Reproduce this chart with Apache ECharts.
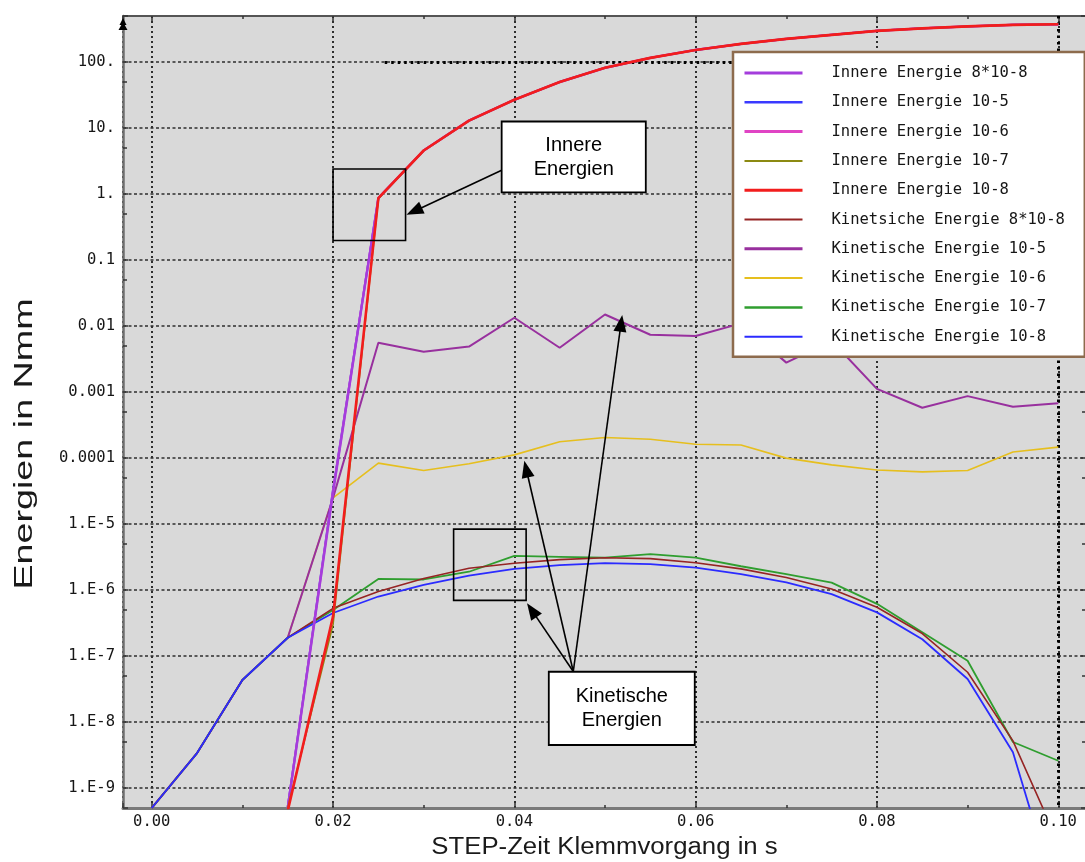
<!DOCTYPE html>
<html>
<head>
<meta charset="utf-8">
<script src="https://cdn.jsdelivr.net/npm/echarts@6/dist/echarts.min.js"></script>
<style>
  html, body { margin: 0; padding: 0; background: #ffffff; }
  #chart { width: 1085px; height: 862px; }
</style>
</head>
<body>
<div id="chart"></div>
<script>
// Simulation output times (s)
const timeSteps = [0, 0.005, 0.01, 0.015, 0.02, 0.025, 0.03, 0.035, 0.04, 0.045, 0.05,
                   0.055, 0.06, 0.065, 0.07, 0.075, 0.08, 0.085, 0.09, 0.095, 0.1];

// Internal energy (Nmm) per mass-scaling setting
const innere8e8 = [null, null, null, 5.0e-10, 3.0e-5, 0.87, 4.58, 13.0, 26.9, 50, 82, 116, 153, 189, 225, 259, 298, 325, 348, 367, 374];
const innere105 = [null, null, null, 5.2e-10, 3.4e-5, 0.87, 4.58, 13.0, 26.9, 50, 82, 116, 153, 189, 225, 259, 298, 325, 348, 367, 374];
const innere106 = [null, null, null, 5.1e-10, 3.2e-5, 0.87, 4.58, 13.0, 26.9, 50, 82, 116, 153, 189, 225, 259, 298, 325, 348, 367, 374];
const innere107 = [null, null, null, 5.0e-10, 3.0e-7, 0.85, 4.55, 13.0, 26.9, 50, 82, 116, 153, 189, 225, 259, 298, 325, 348, 367, 374];
const innere108 = [null, null, null, 4.5e-10, 4.0e-7, 0.87, 4.58, 13.0, 26.9, 50, 82, 116, 153, 189, 225, 259, 298, 325, 348, 367, 374];

// Kinetic energy (Nmm) per mass-scaling setting
const kinetic8e8 = [5e-10, 3.4e-9, 4.35e-8, 1.9e-7, 5.3e-7, 9.5e-7, 1.5e-6, 2.15e-6, 2.55e-6, 2.9e-6, 3.1e-6,
                    3.0e-6, 2.6e-6, 2.1e-6, 1.55e-6, 1.04e-6, 5.5e-7, 2.2e-7, 5.7e-8, 5.2e-9, 1.5e-10];
const kinetic105 = [5e-10, 3.4e-9, 4.35e-8, 1.9e-7, 2.5e-5, 5.6e-3, 4.1e-3, 4.9e-3, 1.34e-2, 4.7e-3, 1.5e-2,
                    7.4e-3, 7.1e-3, 1.1e-2, 2.8e-3, 6.0e-3, 1.12e-3, 5.8e-4, 8.7e-4, 6.0e-4, 6.8e-4];
const kinetic106 = [5e-10, 3.4e-9, 4.35e-8, 1.9e-7, 2.5e-5, 8.4e-5, 6.5e-5, 8.2e-5, 1.12e-4, 1.77e-4, 2.05e-4,
                    1.93e-4, 1.62e-4, 1.58e-4, 1.0e-4, 7.9e-5, 6.6e-5, 6.2e-5, 6.5e-5, 1.24e-4, 1.47e-4];
const kinetic107 = [5e-10, 3.4e-9, 4.35e-8, 1.9e-7, 5.0e-7, 1.48e-6, 1.45e-6, 1.9e-6, 3.3e-6, 3.2e-6, 3.1e-6,
                    3.5e-6, 3.1e-6, 2.3e-6, 1.75e-6, 1.3e-6, 6.2e-7, 2.3e-7, 8.5e-8, 5.0e-9, 2.6e-9];
const kinetic108 = [5e-10, 3.4e-9, 4.35e-8, 1.9e-7, 4.5e-7, 8.0e-7, 1.2e-6, 1.66e-6, 2.1e-6, 2.4e-6, 2.57e-6,
                    2.48e-6, 2.2e-6, 1.75e-6, 1.31e-6, 8.7e-7, 4.6e-7, 1.8e-7, 4.5e-8, 3.5e-9, 1.8e-11];

// Decade tick labels of the energy axis
const yTickExponents = [2, 1, 0, -1, -2, -3, -4, -5, -6, -7, -8, -9];
const yTickLabels = ['100.', '10.', '1.', '0.1', '0.01', '0.001', '0.0001', '1.E-5', '1.E-6', '1.E-7', '1.E-8', '1.E-9'];
// Time tick labels
const xTickValues = [0, 0.02, 0.04, 0.06, 0.08, 0.1];
const xTickLabels = ['0.00', '0.02', '0.04', '0.06', '0.08', '0.10'];

// Cursor cross-hair position
const cursorTime = 0.1;
const cursorEnergy = 100;
const cursorStartTime = 0.0257;

// Axis ranges (energy axis in decades)
const xMin = -0.00317, xMax = 0.10306;
const yMin = Math.log10(5e-10), yMax = Math.log10(500);

const legendOrder = [
  'Innere Energie 8*10-8', 'Innere Energie 10-5', 'Innere Energie 10-6', 'Innere Energie 10-7',
  'Innere Energie 10-8', 'Kinetsiche Energie 8*10-8', 'Kinetische Energie 10-5',
  'Kinetische Energie 10-6', 'Kinetische Energie 10-7', 'Kinetische Energie 10-8'
];
const legendLineWidths = [3, 2.5, 3, 2, 3, 2, 3, 2, 2.5, 2];

// Drawing order (last on top)
const seriesDefs = [
  { name: 'Kinetische Energie 10-6', values: kinetic106, color: '#e6bf1e', width: 1.6 },
  { name: 'Kinetische Energie 10-5', values: kinetic105, color: '#98309e', width: 2 },
  { name: 'Kinetische Energie 10-7', values: kinetic107, color: '#2f9e2f', width: 1.8 },
  { name: 'Kinetsiche Energie 8*10-8', values: kinetic8e8, color: '#962424', width: 1.6 },
  { name: 'Kinetische Energie 10-8', values: kinetic108, color: '#2b2bff', width: 1.8 },
  { name: 'Innere Energie 10-5', values: innere105, color: '#3a3aff', width: 2 },
  { name: 'Innere Energie 10-6', values: innere106, color: '#e044c4', width: 2.2 },
  { name: 'Innere Energie 8*10-8', values: innere8e8, color: '#a43ddc', width: 2.4 },
  { name: 'Innere Energie 10-7', values: innere107, color: '#8c8a12', width: 1.6 },
  { name: 'Innere Energie 10-8', values: innere108, color: '#f21d1d', width: 2.6 }
];

function toPoints(values) {
  const pts = [];
  values.forEach(function (v, i) {
    if (v != null) pts.push([timeSteps[i], Math.log10(v)]);
  });
  return pts;
}

const monoFont = 'DejaVu Sans Mono';
const labelColor = '#161616';

function xLabel(v) {
  for (let i = 0; i < xTickValues.length; i++) {
    if (Math.abs(v - xTickValues[i]) < 1e-9) return xTickLabels[i];
  }
  return '';
}
function yLabel(v) {
  for (let i = 0; i < yTickExponents.length; i++) {
    if (Math.abs(v - yTickExponents[i]) < 1e-6) return yTickLabels[i];
  }
  return '';
}

const hiddenAxisParts = { axisLabel: { show: false }, splitLine: { show: false } };

const series = seriesDefs.map(function (d) {
  return {
    type: 'line', name: d.name, xAxisIndex: 0, yAxisIndex: 0,
    data: toPoints(d.values),
    symbol: 'none', showSymbol: false, clip: true,
    lineStyle: { color: d.color, width: d.width },
    itemStyle: { color: d.color },
    emphasis: { disabled: true }
  };
});

// Cursor lines attached to the top internal energy curve
series[series.length - 1].markLine = {
  silent: true, symbol: 'none', label: { show: false }, z: 2,
  lineStyle: { color: '#000', width: 3, type: [2.5, 4] },
  emphasis: { disabled: true },
  data: [
    [{ coord: [cursorStartTime, Math.log10(cursorEnergy)] }, { coord: [cursorTime, Math.log10(cursorEnergy)] }],
    [{ coord: [cursorTime, yMax] }, { coord: [cursorTime, yMin] }]
  ]
};

const option = {
  animation: false,
  backgroundColor: '#ffffff',
  grid: {
    left: 123, top: 16, width: 963, height: 792,
    show: true, backgroundColor: '#d9d9d9', borderWidth: 0,
    containLabel: false, outerBoundsMode: 'none'
  },
  legend: {
    orient: 'vertical', left: 733, top: 52, z: 20,
    padding: [12, 20, 11, 10],
    backgroundColor: '#ffffff', borderColor: '#8d6b4d', borderWidth: 2.5,
    itemWidth: 58, itemHeight: 18, itemGap: 11.3,
    selectedMode: false,
    itemStyle: { opacity: 0 },
    textStyle: { fontFamily: monoFont, fontSize: 15.5, color: labelColor, lineHeight: 18, padding: [0, 0, 0, 24] },
    data: legendOrder.map(function (name, i) {
      return { name: name, lineStyle: { width: legendLineWidths[i] } };
    })
  },
  xAxis: [
    {
      type: 'value', position: 'bottom', min: xMin, max: xMax, minInterval: 0.02, maxInterval: 0.02,
      axisLine: { show: true, onZero: false, lineStyle: { color: '#7a7a7a', width: 3 } },
      axisTick: { show: true, inside: true, length: 5, lineStyle: { color: '#333', width: 1.5 } },
      axisLabel: { show: true, margin: 6, formatter: xLabel, color: labelColor, fontFamily: monoFont, fontSize: 15.5 },
      splitLine: { show: true, lineStyle: { color: '#2e2e2e', width: 2, type: [2, 3] } }
    },
    Object.assign({
      type: 'value', position: 'bottom', min: xMin, max: xMax, minInterval: 0.01, maxInterval: 0.01,
      axisLine: { show: false, onZero: false },
      axisTick: { show: true, inside: true, length: 3, lineStyle: { color: '#333', width: 1.5 } }
    }, hiddenAxisParts),
    Object.assign({
      type: 'value', position: 'top', min: xMin, max: xMax, minInterval: 0.02, maxInterval: 0.02,
      axisLine: { show: true, onZero: false, lineStyle: { color: '#555', width: 2 } },
      axisTick: { show: true, inside: true, length: 5, lineStyle: { color: '#333', width: 1.5 } }
    }, hiddenAxisParts),
    Object.assign({
      type: 'value', position: 'top', min: xMin, max: xMax, minInterval: 0.01, maxInterval: 0.01,
      axisLine: { show: false, onZero: false },
      axisTick: { show: true, inside: true, length: 3, lineStyle: { color: '#333', width: 1.5 } }
    }, hiddenAxisParts)
  ],
  yAxis: [
    {
      type: 'value', position: 'left', min: yMin, max: yMax, minInterval: 1, maxInterval: 1,
      axisLine: { show: true, onZero: false, lineStyle: { color: '#6e6e6e', width: 2.5 } },
      axisTick: { show: true, inside: true, length: 5, lineStyle: { color: '#333', width: 1.5 } },
      axisLabel: { show: true, margin: 8, formatter: yLabel, color: labelColor, fontFamily: monoFont, fontSize: 15.5 },
      splitLine: { show: true, lineStyle: { color: '#2e2e2e', width: 1.6, type: [3, 2.5] } }
    },
    // half-decade (5 x 10^n) ticks
    Object.assign({
      type: 'value', position: 'left', min: yMin, max: yMax, interval: 1,
      axisLine: { show: false, onZero: false },
      axisTick: { show: true, inside: true, length: 4, lineStyle: { color: '#333', width: 1.5 } }
    }, hiddenAxisParts),
    Object.assign({
      type: 'value', position: 'right', min: yMin, max: yMax, minInterval: 1, maxInterval: 1,
      axisLine: { show: true, onZero: false, lineStyle: { color: '#6e6e6e', width: 2.5 } },
      axisTick: { show: true, inside: true, length: 5, lineStyle: { color: '#333', width: 1.5 } }
    }, hiddenAxisParts),
    Object.assign({
      type: 'value', position: 'right', min: yMin, max: yMax, interval: 1,
      axisLine: { show: false, onZero: false },
      axisTick: { show: true, inside: true, length: 4, lineStyle: { color: '#333', width: 1.5 } }
    }, hiddenAxisParts)
  ],
  series: series
};

const chart = echarts.init(document.getElementById('chart'), null, { renderer: 'canvas' });
chart.setOption(option);

// ---- callouts, positioned in data space ----
const innereLabelBox = [[0.0386, 12.6], [0.0545, 1.06]];
const innereZoomBox = [[0.0200, 2.4], [0.0280, 0.198]];
const innereArrow = [[0.0386, 2.30], [0.0281, 0.485]];
const kineticLabelBox = [[0.0438, 5.8e-8], [0.0599, 4.5e-9]];
const kineticZoomBox = [[0.0333, 8.4e-6], [0.0413, 7.0e-7]];
const kineticArrowFrom = [0.0465, 5.85e-8];
const kineticArrowTips = [[0.0414, 6.35e-7], [0.0411, 9.1e-5], [0.0519, 0.0148]];

function px(p) {
  return chart.convertToPixel({ seriesIndex: 0 }, [p[0], Math.log10(p[1])]);
}
function rectOf(box, fill, lw) {
  const a = px(box[0]), b = px(box[1]);
  return {
    type: 'rect', z: 100,
    shape: { x: a[0], y: a[1], width: b[0] - a[0], height: b[1] - a[1] },
    style: { fill: fill, stroke: '#000', lineWidth: lw }
  };
}
function arrow(fromP, tipP) {
  const s = px(fromP), t = px(tipP);
  const dx = t[0] - s[0], dy = t[1] - s[1];
  const len = Math.hypot(dx, dy), ux = dx / len, uy = dy / len;
  const headLen = 17, half = 6.5;
  const bx = t[0] - ux * headLen, by = t[1] - uy * headLen;
  return [
    { type: 'line', z: 101, shape: { x1: s[0], y1: s[1], x2: bx + ux * 2, y2: by + uy * 2 },
      style: { stroke: '#000', lineWidth: 1.6 } },
    { type: 'polygon', z: 102,
      shape: { points: [[t[0], t[1]], [bx - uy * half, by + ux * half], [bx + uy * half, by - ux * half]] },
      style: { fill: '#000' } }
  ];
}
function centerOf(box) {
  const a = px(box[0]), b = px(box[1]);
  return [(a[0] + b[0]) / 2, (a[1] + b[1]) / 2];
}

const corner = chart.convertToPixel({ seriesIndex: 0 }, [xMin, yMax]);
const gridBottomCenter = chart.convertToPixel({ seriesIndex: 0 }, [(xMin + xMax) / 2, yMin]);

const graphics = [];
graphics.push(rectOf(innereZoomBox, 'transparent', 1.6));
graphics.push(rectOf(kineticZoomBox, 'transparent', 1.6));
graphics.push(rectOf(innereLabelBox, '#ffffff', 1.8));
graphics.push(rectOf(kineticLabelBox, '#ffffff', 1.8));
arrow(innereArrow[0], innereArrow[1]).forEach(function (g) { graphics.push(g); });
kineticArrowTips.forEach(function (tip) {
  arrow(kineticArrowFrom, tip).forEach(function (g) { graphics.push(g); });
});
const ic = centerOf(innereLabelBox), kc = centerOf(kineticLabelBox);
graphics.push({
  type: 'text', z: 103, x: ic[0], y: ic[1],
  style: { text: 'Innere\nEnergien', align: 'center', verticalAlign: 'middle',
           font: '20px "Liberation Sans", Arial, sans-serif', lineHeight: 24, fill: '#000' }
});
graphics.push({
  type: 'text', z: 103, x: kc[0], y: kc[1],
  style: { text: 'Kinetische\nEnergien', align: 'center', verticalAlign: 'middle',
           font: '20px "Liberation Sans", Arial, sans-serif', lineHeight: 24, fill: '#000' }
});
// arrow tip at the top of the energy axis
graphics.push({ type: 'polygon', z: 104,
  shape: { points: [[corner[0], corner[1] + 2], [corner[0] - 3.5, corner[1] + 9], [corner[0] + 3.5, corner[1] + 9]] },
  style: { fill: '#000' } });
graphics.push({ type: 'polygon', z: 104,
  shape: { points: [[corner[0], corner[1] + 6], [corner[0] - 4.5, corner[1] + 14], [corner[0] + 4.5, corner[1] + 14]] },
  style: { fill: '#000' } });
// axis titles
graphics.push({
  type: 'text', z: 103, x: gridBottomCenter[0], y: gridBottomCenter[1] + 40, scaleX: 1.12,
  style: { text: 'STEP-Zeit Klemmvorgang in s', align: 'center', verticalAlign: 'middle',
           font: '23px "Liberation Sans", Arial, sans-serif', fill: '#1a1a1a' }
});
graphics.push({
  type: 'text', z: 103, x: 25, y: 444, rotation: Math.PI / 2, scaleX: 1.45,
  style: { text: 'Energien in Nmm', align: 'center', verticalAlign: 'middle',
           font: '26px "Liberation Sans", Arial, sans-serif', fill: '#1a1a1a' }
});

chart.setOption({ graphic: { elements: graphics } });
</script>
</body>
</html>
